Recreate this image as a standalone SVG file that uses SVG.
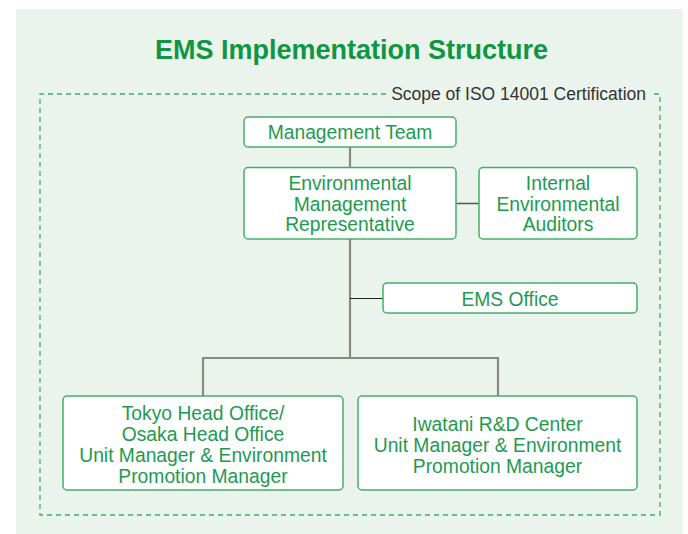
<svg xmlns="http://www.w3.org/2000/svg" width="688" height="534" viewBox="0 0 688 534">
<style>
.bg{fill:#ffffff}
.panel{fill:#eaf4ec}
.box{fill:#ffffff;stroke:#45ad68;stroke-width:1.5}
.t{font-family:"Liberation Sans",Arial,sans-serif;font-size:19.3px;fill:#1e9a50;text-anchor:middle}
.title{font-family:"Liberation Sans",Arial,sans-serif;font-size:27px;font-weight:bold;fill:#0f9645;text-anchor:middle}
.scope{font-family:"Liberation Sans",Arial,sans-serif;font-size:17.5px;fill:#333333;text-anchor:end}
.dash{fill:none;stroke:#3fae66;stroke-width:1.3;stroke-dasharray:5 4}
.c{fill:none;stroke:#8a8a85;stroke-width:2.2}
.c2{fill:none;stroke:#555555;stroke-width:1.5}
.c3{fill:none;stroke:#222222;stroke-width:1}
</style>
<rect class="bg" x="0" y="0" width="688" height="534"/>
<rect class="panel" x="16" y="9" width="667" height="525"/>
<text class="title" x="351.5" y="59">EMS Implementation Structure</text>
<g id="scope">
<path class="dash" d="M386 94 H40 V515 H660 V94 H650"/>
<text class="scope" x="646" y="99.5">Scope of ISO 14001 Certification</text>
</g>
<g id="connectors">
<path class="c" d="M350 147 V167"/>
<path class="c" d="M350 239 V358"/>
<path class="c" d="M203 396 V358 H498 V396"/>
<path class="c2" d="M456 203.5 H479"/>
<path class="c3" d="M350 298.5 H383"/>
</g>
<g id="management-team">
<rect class="box" x="244" y="117" width="212" height="30" rx="4"/>
<text class="t" x="350" y="139">Management Team</text>
</g>
<g id="emr">
<rect class="box" x="244" y="167.5" width="212" height="71.5" rx="4"/>
<text class="t" x="350" y="190">Environmental</text>
<text class="t" x="350" y="210.5">Management</text>
<text class="t" x="350" y="231">Representative</text>
</g>
<g id="auditors">
<rect class="box" x="479" y="167.5" width="158" height="71.5" rx="4"/>
<text class="t" x="558" y="190">Internal</text>
<text class="t" x="558" y="210.5">Environmental</text>
<text class="t" x="558" y="231">Auditors</text>
</g>
<g id="ems-office">
<rect class="box" x="383" y="283" width="254" height="30" rx="4"/>
<text class="t" x="510" y="305.5">EMS Office</text>
</g>
<g id="tokyo-osaka">
<rect class="box" x="63" y="396" width="280" height="94" rx="4"/>
<text class="t" x="203" y="420">Tokyo Head Office/</text>
<text class="t" x="203" y="441">Osaka Head Office</text>
<text class="t" x="203" y="462">Unit Manager &amp; Environment</text>
<text class="t" x="203" y="483">Promotion Manager</text>
</g>
<g id="iwatani-rd">
<rect class="box" x="358" y="396" width="279" height="94" rx="4"/>
<text class="t" x="497.5" y="431">Iwatani R&amp;D Center</text>
<text class="t" x="497.5" y="452">Unit Manager &amp; Environment</text>
<text class="t" x="497.5" y="473">Promotion Manager</text>
</g>
</svg>
